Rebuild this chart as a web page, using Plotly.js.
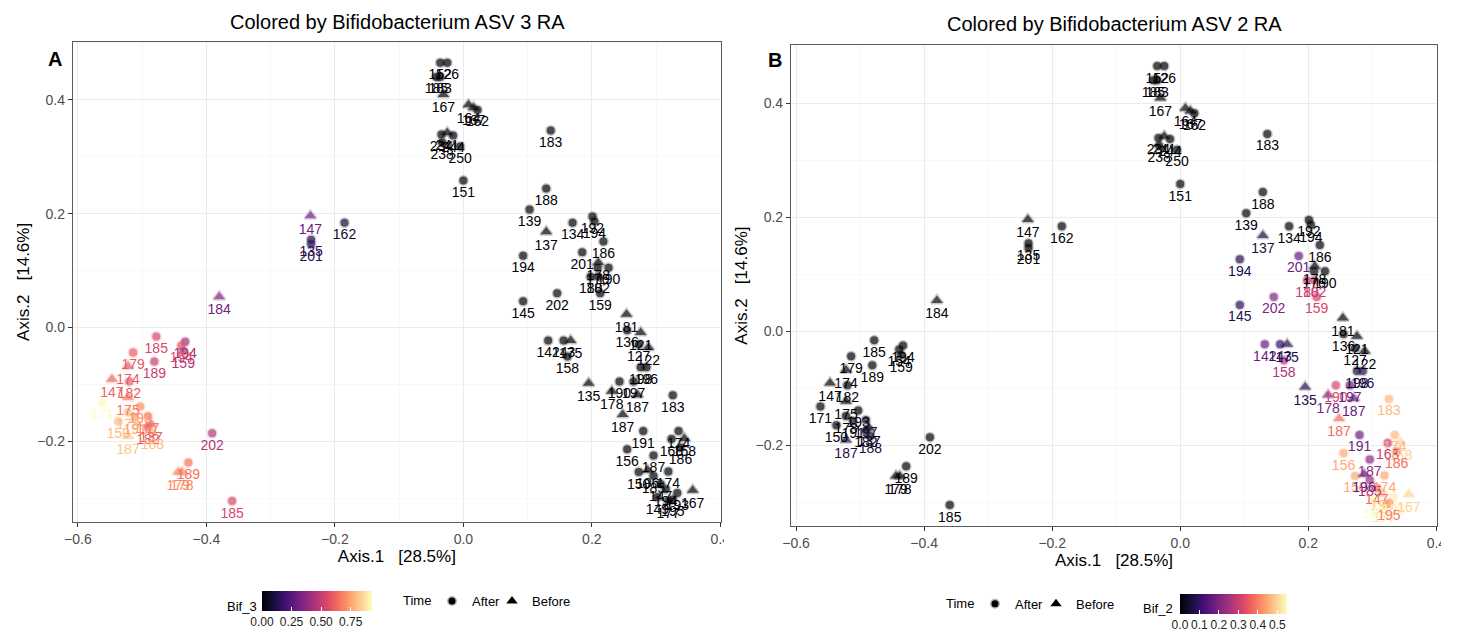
<!DOCTYPE html>
<html><head><meta charset="utf-8">
<script src="https://cdn.plot.ly/plotly-3.0.1.min.js"></script>
<style>body{margin:0;background:#fff}</style>
</head><body><div id="chart" style="width:1458px;height:635px"></div>
<script>
// ---- data ----
const sampleLabels = ["152","126","185","183","167","164","167","162","234","241","244","238","250","183","151",
"188","139","137","134","192","194","186","194","201","178","176","190","180","182","159","202","145","181",
"136","121","122","127","198","196","142","143","175","158","135","178","190","197","187","183","187","191",
"174","168","158","186","156","187","150","196","185","174","147","194","193","149","177","195","167",
"147","162","135","201","184","185","194","154","159","179","189","174","147","182","175","171","193","178",
"150","191","197","137","182","187","188","202","189","179","178","185"];
const axis1 = [-0.036,-0.025,-0.042,-0.036,-0.031,0.008,0.016,0.022,-0.034,-0.025,-0.016,-0.033,-0.005,0.136,0.000,
0.129,0.103,0.129,0.170,0.201,0.204,0.218,0.093,0.185,0.210,0.209,0.226,0.198,0.210,0.213,0.146,0.093,0.254,
0.255,0.276,0.288,0.273,0.276,0.285,0.132,0.156,0.167,0.162,0.195,0.231,0.243,0.265,0.271,0.326,0.248,0.280,
0.335,0.324,0.344,0.338,0.255,0.296,0.273,0.287,0.296,0.319,0.307,0.315,0.333,0.302,0.319,0.326,0.357,
-0.238,-0.185,-0.237,-0.237,-0.380,-0.478,-0.433,-0.439,-0.436,-0.514,-0.481,-0.522,-0.547,-0.520,-0.522,-0.562,-0.503,-0.522,
-0.537,-0.511,-0.491,-0.486,-0.491,-0.522,-0.484,-0.391,-0.428,-0.444,-0.438,-0.360];
const axis2 = [0.465,0.465,0.440,0.440,0.409,0.391,0.386,0.382,0.339,0.342,0.337,0.325,0.318,0.346,0.258,
0.244,0.207,0.168,0.184,0.195,0.186,0.151,0.126,0.132,0.114,0.105,0.105,0.089,0.089,0.060,0.060,0.046,0.023,
-0.005,-0.009,-0.035,-0.030,-0.070,-0.070,-0.023,-0.023,-0.023,-0.051,-0.098,-0.112,-0.095,-0.095,-0.118,-0.119,-0.153,-0.182,
-0.182,-0.196,-0.195,-0.211,-0.214,-0.225,-0.254,-0.251,-0.261,-0.253,-0.275,-0.284,-0.291,-0.298,-0.305,-0.302,-0.286,
0.196,0.184,0.154,0.146,0.054,-0.016,-0.025,-0.032,-0.042,-0.044,-0.060,-0.068,-0.091,-0.095,-0.123,-0.132,-0.139,-0.149,
-0.165,-0.158,-0.156,-0.170,-0.175,-0.191,-0.184,-0.186,-0.237,-0.254,-0.254,-0.305];
const timeGroup = ["A","A","A","A","B","B","B","A","A","B","A","A","A","A","A",
"A","A","B","A","A","A","A","A","A","B","A","A","A","A","A","A","A","B",
"A","B","B","A","A","A","A","A","B","A","B","B","A","A","B","A","B","A",
"A","A","B","A","A","A","A","B","A","A","A","A","A","A","A","A","B",
"B","A","A","A","B","A","A","A","A","A","A","B","B","A","B","A","A","A",
"A","A","A","B","A","B","A","A","A","B","B","A"].map(t => t === "A" ? "After" : "Before");
const bif3 = [0,0,0,0,0,0,0,0,0,0,0,0,0,0,0,
0,0,0,0,0,0,0,0,0,0,0,0,0,0,0,0,0,0,
0,0,0,0,0,0,0,0,0,0,0,0,0,0,0,0,0,0,
0,0,0,0,0,0,0,0,0,0,0,0,0,0,0,0,0,
0.30,0.08,0.12,0.15,0.32,0.55,0.42,0.58,0.45,0.60,0.50,0.60,0.62,0.60,0.66,0.93,0.72,0.80,
0.80,0.75,0.68,0.60,0.60,0.82,0.80,0.45,0.65,0.70,0.70,0.55];
const bif2 = [0,0,0,0,0,0,0,0,0,0,0,0,0,0,0,
0,0,0.06,0,0,0,0,0.08,0.17,0,0,0,0.30,0.30,0.32,0.20,0.08,0,
0,0,0,0,0.05,0.08,0.17,0.10,0.07,0.27,0.08,0.20,0.32,0.18,0.16,0.47,0.38,0.18,
0.47,0.30,0.50,0.38,0.45,0.22,0.45,0.15,0.25,0.45,0.38,0.48,0.53,0.55,0.52,0.40,0.50,
0,0,0,0,0,0,0,0,0,0,0,0,0,0,0,0,0,0,
0,0.04,0.05,0,0.02,0.07,0.06,0,0,0,0,0];
const timeLevels = ["After","Before"];
const bif3Ticks = [0, 0.25, 0.5, 0.75];
const bif2Ticks = [0, 0.1, 0.2, 0.3, 0.4, 0.5];

// ---- magma colour scale ----
const magmaStops = [[0.0,"#000004"],[0.1,"#140e36"],[0.2,"#3b0f70"],[0.3,"#641a80"],[0.4,"#8c2981"],
[0.5,"#b73779"],[0.6,"#de4968"],[0.7,"#f7705c"],[0.8,"#fe9f6d"],[0.9,"#fecf92"],[1.0,"#fcfdbf"]];
function hex2rgb(h){return [parseInt(h.slice(1,3),16),parseInt(h.slice(3,5),16),parseInt(h.slice(5,7),16)];}
function magma(t, a){
  t = Math.max(0, Math.min(1, t));
  let i = 0; while (i < magmaStops.length - 2 && t > magmaStops[i+1][0]) i++;
  const [t0,c0] = magmaStops[i], [t1,c1] = magmaStops[i+1];
  const f = (t - t0) / (t1 - t0), A = hex2rgb(c0), B = hex2rgb(c1);
  const c = A.map((v,k) => Math.round(v + (B[k]-v)*f));
  return a === undefined ? `rgb(${c[0]},${c[1]},${c[2]})` : `rgba(${c[0]},${c[1]},${c[2]},${a})`;
}

const FONT = "Liberation Sans, Arial, Helvetica, sans-serif";
function panelTrace(vals, xa, ya, cbar){
  const cmax = Math.max(...vals);
  return {
    type: "scatter", mode: "markers+text", x: axis1, y: axis2, text: sampleLabels,
    xaxis: xa, yaxis: ya, showlegend: false, cliponaxis: false,
    textposition: "bottom center",
    textfont: {family: FONT, size: 14, color: vals.map(v => magma(v / cmax))},
    marker: {
      symbol: timeGroup.map(t => t === "After" ? "circle" : "triangle-up"),
      size: timeGroup.map(t => t === "After" ? 8 : 10),
      color: vals, colorscale: magmaStops, cmin: 0, cmax: cmax, showscale: true,
      colorbar: cbar,
      line: {color: vals.map(v => magma(v / cmax, 0.3)), width: 3}
    },
    hoverinfo: "text"
  };
}
function cbar(xc, yt, len, ticks, fmt){
  return {orientation: "h", x: xc, xanchor: "center", y: yt, yanchor: "top",
    len: len, lenmode: "pixels", thickness: 20, thicknessmode: "pixels",
    outlinewidth: 0, xpad: 0, ypad: 0,
    tickvals: ticks, ticktext: ticks.map(fmt), ticks: "inside", ticklen: 4, tickcolor: "white",
    tickfont: {family: FONT, size: 12, color: "#222"}};
}
// one legend per key entry so the entries can sit as tightly as in the reference
function legendTraces(xa, ya, legs){
  return timeLevels.map((t, i) => ({
    type: "scatter", mode: "markers", x: [null], y: [null], xaxis: xa, yaxis: ya,
    name: t, legend: legs[i], showlegend: true,
    marker: {symbol: t === "After" ? "circle" : "triangle-up", size: t === "After" ? 7 : 10, color: "black",
      line: {color: "rgba(0,0,0,0.3)", width: t === "After" ? 3 : 0}}
  }));
}

const traces = [
  panelTrace(bif3, "x", "y", cbar(0.2174, 0.069, 110, bif3Ticks, v => v.toFixed(2))),
  panelTrace(bif2, "x2", "y2", cbar(0.846, 0.0646, 107, bif2Ticks, v => v.toFixed(1))),
  ...legendTraces("x", "y", ["legend", "legend3"]),
  ...legendTraces("x2", "y2", ["legend2", "legend4"])
];

function xax(dom){
  return {domain: dom, range: [-0.608, 0.401], dtick: 0.2, tick0: 0, tickformat: ".1f",
    showgrid: true, gridcolor: "#EBEBEB", gridwidth: 1, zeroline: false,
    minor: {dtick: 0.1, tick0: 0, showgrid: true, gridcolor: "#F3F3F3", gridwidth: 0.6},
    showline: true, mirror: true, linecolor: "#5a5a5a", linewidth: 1,
    ticks: "outside", ticklen: 4, tickcolor: "#333", tickwidth: 1,
    tickfont: {family: FONT, size: 14, color: "#4D4D4D"},
    title: {text: "Axis.1   [28.5%]", font: {family: FONT, size: 17, color: "#000"}, standoff: 0},
    fixedrange: true};
}
function yax(dom, anchor){
  return {domain: dom, anchor: anchor, range: [-0.342, 0.502], dtick: 0.2, tick0: 0, tickformat: ".1f",
    showgrid: true, gridcolor: "#EBEBEB", gridwidth: 1, zeroline: false,
    minor: {dtick: 0.1, tick0: 0, showgrid: true, gridcolor: "#F3F3F3", gridwidth: 0.6},
    showline: true, mirror: true, linecolor: "#5a5a5a", linewidth: 1,
    ticks: "outside", ticklen: 4, tickcolor: "#333", tickwidth: 1,
    tickfont: {family: FONT, size: 14, color: "#4D4D4D"},
    title: {text: "Axis.2   [14.6%]", font: {family: FONT, size: 17, color: "#000"}, standoff: 3},
    fixedrange: true};
}

const legendStyle = (x, y) => ({orientation: "h", x: x, xanchor: "left", y: y, yanchor: "middle",
  font: {family: FONT, size: 13, color: "#000"}, bgcolor: "rgba(0,0,0,0)", itemwidth: 30,
  borderwidth: 0, tracegroupgap: 0});

// white masks reproduce the clipped "0.4" labels at the right edge of each panel image
const masks = [[724, 736], [1441, 1458]].map(([a, b]) => ({type: "rect", xref: "paper", yref: "paper",
  x0: a/1458, x1: b/1458, y0: (635-550)/635, y1: (635-528)/635, fillcolor: "white", line: {width: 0}, layer: "above"}));

const ann = (text, xpx, ypx, size, xanchor, bold) => ({text: bold ? `<b>${text}</b>` : text,
  xref: "paper", yref: "paper", x: xpx/1458, y: (635-ypx)/635, xanchor: xanchor, yanchor: "middle",
  showarrow: false, font: {family: FONT, size: size, color: "#000"}});

const layout = {
  width: 1458, height: 635, paper_bgcolor: "white", plot_bgcolor: "white",
  margin: {l: 0, r: 0, t: 0, b: 0},
  font: {family: FONT},
  xaxis: {...xax([0.0499, 0.4945]), anchor: "y"},
  yaxis: yax([0.1764, 0.9343], "x"),
  xaxis2: {...xax([0.5425, 0.9856]), anchor: "y2"},
  yaxis2: yax([0.1701, 0.9291], "x2"),
  legend: legendStyle(432/1458, 0.0535),
  legend3: legendStyle(492/1458, 0.0535),
  legend2: legendStyle(975/1458, 0.049),
  legend4: legendStyle(1036/1458, 0.049),
  shapes: masks,
  annotations: [
    ann("Colored by Bifidobacterium ASV 3 RA", 397, 22, 20, "center"),
    ann("Colored by Bifidobacterium ASV 2 RA", 1114, 24, 20, "center"),
    ann("A", 55, 59, 20, "center", true),
    ann("B", 775, 60, 20, "center", true),
    ann("Bif_3", 259, 607, 13, "right"),
    ann("Bif_2", 1175, 609, 13, "right"),
    ann("Time", 401, 601, 13, "left"),
    ann("Time", 944, 604, 13, "left")
  ]
};

Plotly.newPlot("chart", traces, layout, {displayModeBar: false, staticPlot: true});
</script>
</body></html>
